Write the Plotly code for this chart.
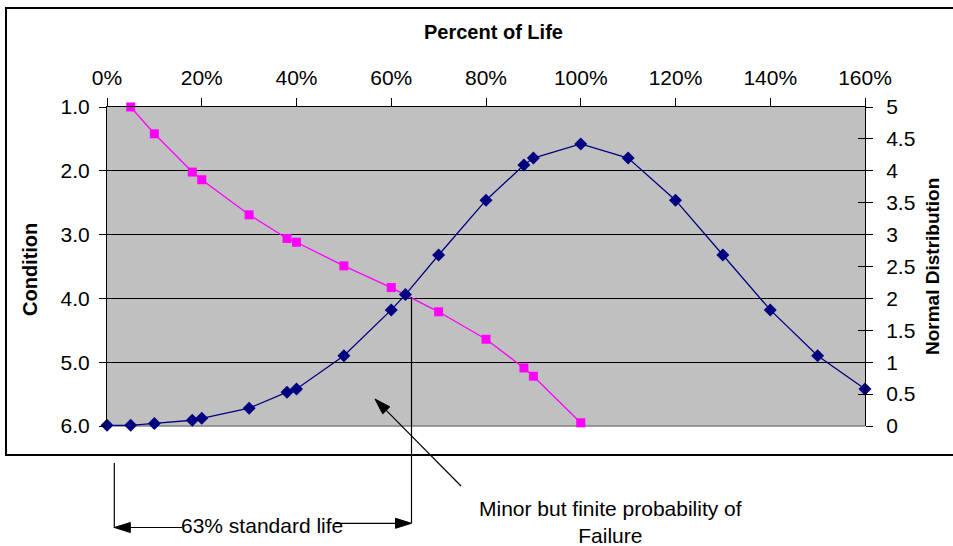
import math
import plotly.graph_objects as go

# Condition rating vs percent of life (left axis, reversed)
cond_life = [0.05, 0.10, 0.18, 0.20, 0.30, 0.38, 0.40, 0.50, 0.60, 0.70, 0.80, 0.88, 0.90, 1.00]
cond_value = [1.00, 1.42, 2.02, 2.14, 2.69, 3.06, 3.12, 3.49, 3.83, 4.21, 4.64, 5.09, 5.22, 5.95]

# Normal distribution of failures vs percent of life (right axis)
dist_life = [0.00, 0.05, 0.10, 0.18, 0.20, 0.30, 0.38, 0.40, 0.50, 0.60, 0.63,
             0.70, 0.80, 0.88, 0.90, 1.00, 1.10, 1.20, 1.30, 1.40, 1.50, 1.60]
dist_value = [0.01, 0.01, 0.04, 0.09, 0.12, 0.28, 0.53, 0.58, 1.10, 1.82, 2.06,
              2.68, 3.54, 4.09, 4.20, 4.42, 4.20, 3.54, 2.68, 1.82, 1.10, 0.58]

FONT = "Arial, Liberation Sans, sans-serif"
W, H = 953, 546
L, R, T, B = 107, 88, 107, 120
PW, PH = W - L - R, H - T - B


def px_x(p):
    return (p - L) / PW


def px_y(q):
    return (H - B - q) / PH


fig = go.Figure()

fig.add_trace(go.Scatter(
    x=cond_life, y=cond_value, yaxis="y", mode="lines+markers",
    line=dict(color="#FF00FF", width=1.3),
    marker=dict(symbol="square", size=9, color="#FF00FF"),
    cliponaxis=False, name="Condition"))

fig.add_trace(go.Scatter(
    x=dist_life, y=dist_value, yaxis="y2", mode="lines+markers",
    line=dict(color="#000080", width=1.3),
    marker=dict(symbol="diamond", size=10, color="#000080"),
    cliponaxis=False, name="Normal Distribution"))

tickfont = dict(family=FONT, size=21, color="black")

fig.update_layout(
    width=W, height=H,
    margin=dict(l=L, r=R, t=T, b=B, autoexpand=False),
    paper_bgcolor="white", plot_bgcolor="#C0C0C0",
    showlegend=False,
    xaxis=dict(side="top", range=[0, 1.6], dtick=0.2, tickformat=".0%",
               showgrid=False, zeroline=False, showline=True, linecolor="black",
               linewidth=1, ticks="outside", ticklen=8, tickcolor="black",
               tickfont=tickfont, ticklabelstandoff=5),
    yaxis=dict(range=[6, 1], dtick=1, tickformat=".1f", showgrid=True,
               gridcolor="black", gridwidth=1, zeroline=False, showline=True,
               linecolor="black", linewidth=1, ticks="outside", ticklen=7,
               tickcolor="black", tickfont=tickfont, ticklabelstandoff=5),
    yaxis2=dict(overlaying="y", side="right", range=[0, 5], dtick=0.5,
                showgrid=False, zeroline=False, showline=True, linecolor="black",
                linewidth=1, ticks="outside", ticklen=7, tickcolor="black",
                tickfont=tickfont, ticklabelstandoff=9),
    yaxis3=dict(overlaying="y", side="right", range=[0, 5], dtick=0.5,
                showgrid=False, zeroline=False, showline=False,
                ticks="inside", ticklen=7, tickcolor="black",
                showticklabels=False),
)

# invisible trace so the inner tick axis is rendered
fig.add_trace(go.Scatter(x=[None], y=[None], yaxis="y3", showlegend=False))


def label(text, x, y, size, angle=0):
    fig.add_annotation(text=text, xref="paper", yref="paper", x=px_x(x), y=px_y(y),
                       xanchor="center", yanchor="middle", textangle=angle,
                       showarrow=False,
                       font=dict(family=FONT, size=size, color="black"))


label("<b>Percent of Life</b>", 493, 32, 20)
label("<b>Condition</b>", 30, 270, 20, -90)
label("<b>Normal Distribution</b>", 932, 267, 19, -90)
label("63% standard life", 262, 525, 21)
label("Minor but finite probability of<br>Failure", 610, 522, 21)

line = dict(color="black", width=1.2)


def seg(x0, y0, x1, y1):
    fig.add_shape(type="line", xref="paper", yref="paper",
                  x0=px_x(x0), y0=px_y(y0), x1=px_x(x1), y1=px_y(y1), line=line)


def arrow(tail, tip, length=16, half=5):
    (tx, ty), (hx, hy) = tail, tip
    d = math.hypot(hx - tx, hy - ty)
    ux, uy = (hx - tx) / d, (hy - ty) / d
    bx, by = hx - ux * length, hy - uy * length
    seg(tx, ty, bx, by)
    pts = [(hx, hy), (bx - uy * half, by + ux * half), (bx + uy * half, by - ux * half)]
    path = "M " + " L ".join(f"{px_x(a):.5f},{px_y(b):.5f}" for a, b in pts) + " Z"
    fig.add_shape(type="path", xref="paper", yref="paper", path=path,
                  fillcolor="black", line=dict(color="black", width=1))


# pointer to the low-probability tail
arrow((461, 486), (375, 399))
# bracket for the 63% standard life span
seg(114.3, 463, 114.3, 528)
seg(411.5, 297, 411.5, 523)
arrow((182, 527.5), (114.3, 527.5))
arrow((335, 523.3), (411.5, 523.3))

# plot-area bottom edge
fig.add_shape(type="line", xref="paper", yref="paper", layer="between",
              x0=0, x1=1, y0=0, y1=0, line=dict(color="#808080", width=1.5))
# chart frame
fig.add_shape(type="rect", xref="paper", yref="paper",
              x0=px_x(6), x1=px_x(962), y0=px_y(455), y1=px_y(8),
              line=dict(color="black", width=2))

fig.write_html("out.html")
